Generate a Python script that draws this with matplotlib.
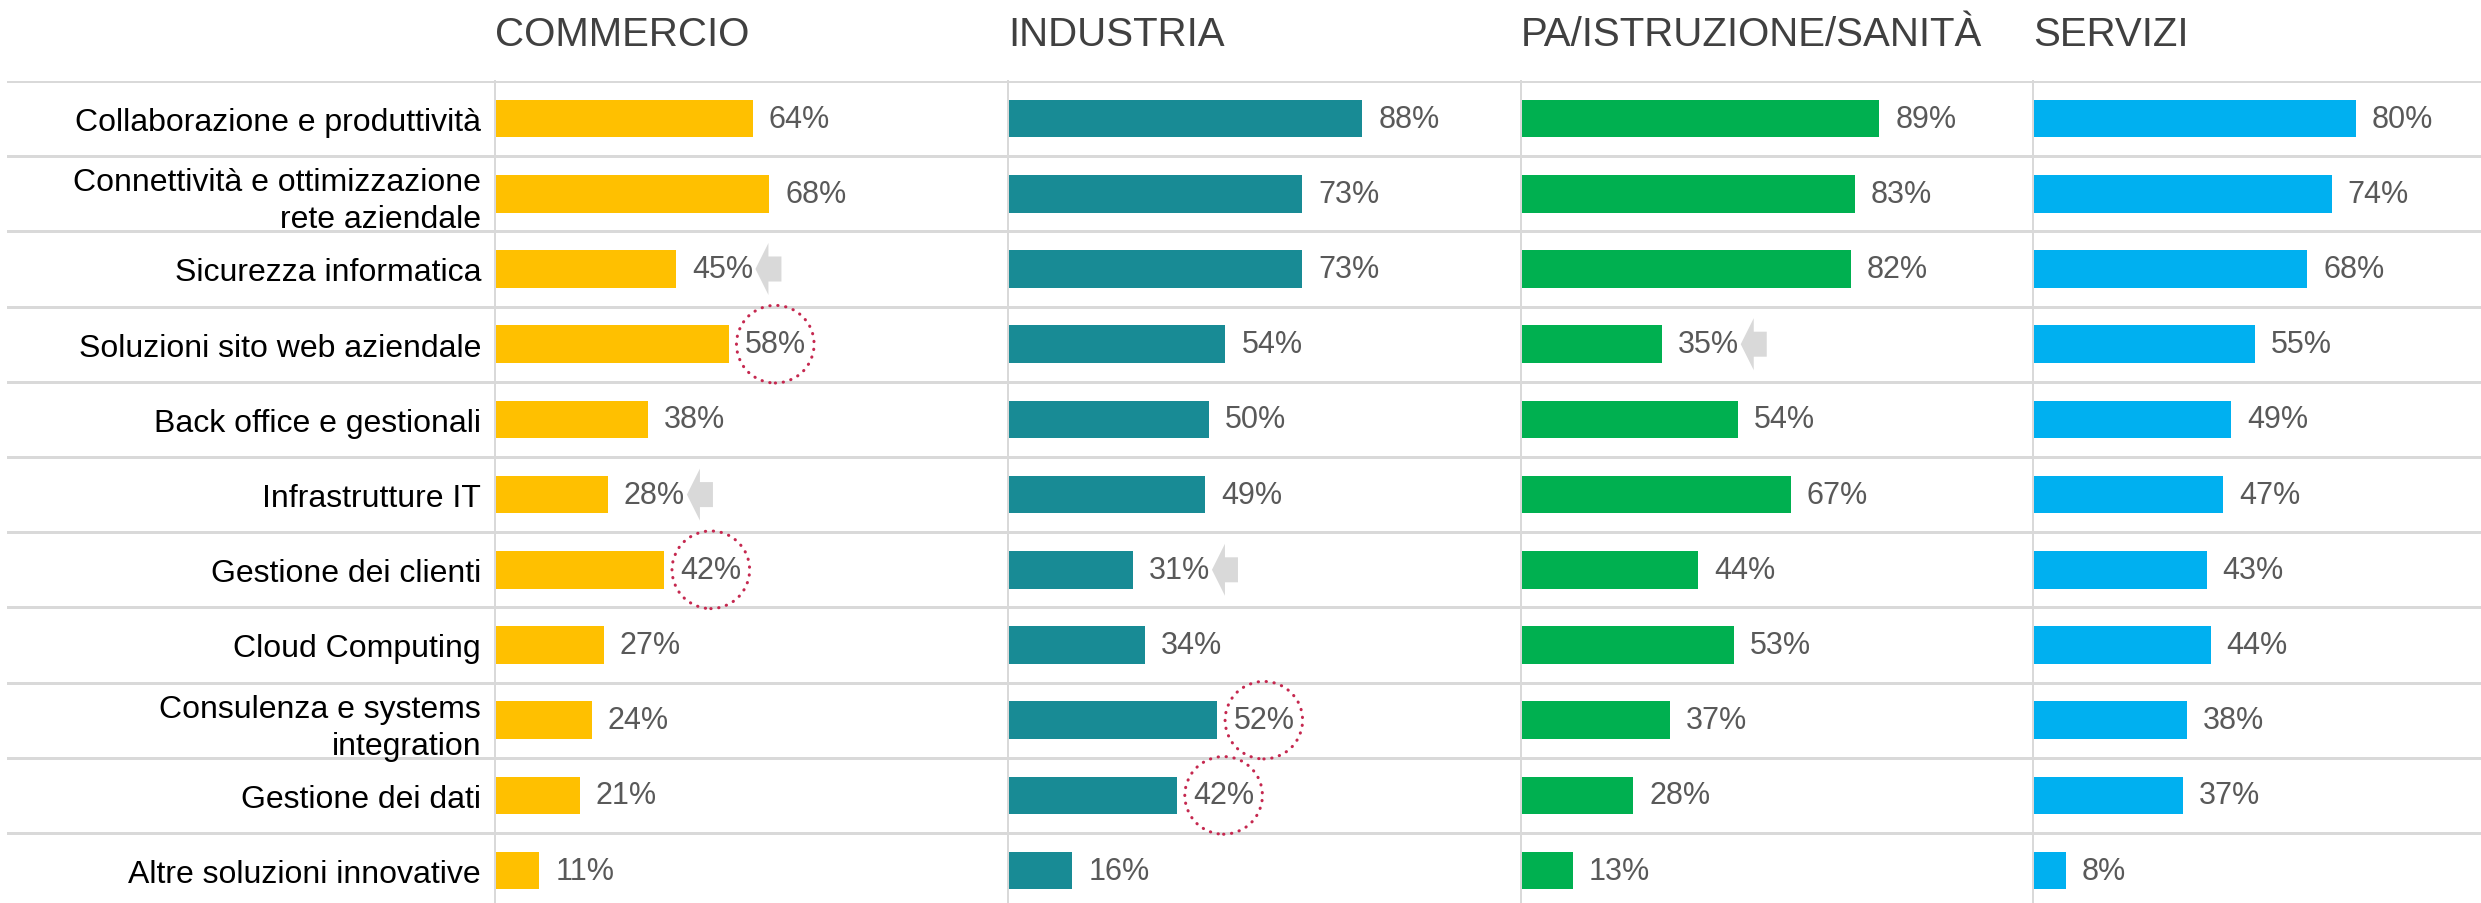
import matplotlib
matplotlib.use("Agg")
import matplotlib.pyplot as plt
from matplotlib.patches import Polygon
import numpy as np

# ---------------- data ----------------
categories = [
    "Collaborazione e produttività",
    "Connettività e ottimizzazione\nrete aziendale",
    "Sicurezza informatica",
    "Soluzioni sito web aziendale",
    "Back office e gestionali",
    "Infrastrutture IT",
    "Gestione dei clienti",
    "Cloud Computing",
    "Consulenza e systems\nintegration",
    "Gestione dei dati",
    "Altre soluzioni innovative",
]
sectors = ["COMMERCIO", "INDUSTRIA", "PA/ISTRUZIONE/SANITÀ", "SERVIZI"]
commercio = [64, 68, 45, 58, 38, 28, 42, 27, 24, 21, 11]
industria = [88, 73, 73, 54, 50, 49, 31, 34, 52, 42, 16]
pa_istruzione_sanita = [89, 83, 82, 35, 54, 67, 44, 53, 37, 28, 13]
servizi = [80, 74, 68, 55, 49, 47, 43, 44, 38, 37, 8]
series = [commercio, industria, pa_istruzione_sanita, servizi]
# highlighted items (category index) per sector
arrow_items = [[2, 5], [6], [3], []]
circle_items = [[3, 6], [8, 9], [], []]

# ---------------- style ----------------
colors = ["#FFC000", "#188B95", "#00B050", "#00B0F0"]
grid_col = "#D9D9D9"
value_col = "#595959"
title_col = "#404040"
circle_col = "#C5284F"
arrow_col = "#D9D9D9"
FONT = "Liberation Sans"

W, H = 2481, 904
DPI = 100
top_px = 82.0
row_px = 75.2
n = len(categories)
first_left_px = 495.0
col_pitch_px = 512.8
px_per_unit = 4.03

fig = plt.figure(figsize=(W / DPI, H / DPI), dpi=DPI)
plt.rcParams["font.family"] = [FONT, "DejaVu Sans"]

ax_h = n * row_px / H
ax_bottom = 1 - top_px / H - ax_h
ylim = (n - 0.5, -0.5)

# background axes for horizontal separators spanning full width
bg = fig.add_axes([7 / W, ax_bottom, 1 - 7 / W, ax_h])
bg.set_ylim(*ylim)
bg.set_xlim(0, 1)
bg.axis("off")
for b in np.arange(-0.5, n, 1.0):
    bg.axhline(b, color=grid_col, lw=3 * 72 / DPI, zorder=0)

axes = []
for k, (name, vals, col) in enumerate(zip(sectors, series, colors)):
    left_px = first_left_px + k * col_pitch_px
    width_px = min(col_pitch_px, W - left_px)
    ax = fig.add_axes([left_px / W, ax_bottom, width_px / W, ax_h])
    ax.set_facecolor("none")
    ax.set_xlim(0, width_px / px_per_unit)
    ax.set_ylim(*ylim)
    y = np.arange(n)
    ax.barh(y, vals, height=0.5, color=col, zorder=2)
    for s in ["top", "right", "bottom"]:
        ax.spines[s].set_visible(False)
    ax.spines["left"].set_color(grid_col)
    ax.spines["left"].set_linewidth(2 * 72 / DPI)
    ax.set_xticks([])
    if k == 0:
        ax.set_yticks(y, categories)
        ax.tick_params(axis="y", length=0, pad=10, labelsize=23, labelcolor="black")
        for t in ax.get_yticklabels():
            t.set_linespacing(1.3)
    else:
        ax.set_yticks([])
    texts = []
    for i, v in enumerate(vals):
        kw = {}
        if i in circle_items[k]:
            kw["bbox"] = dict(boxstyle="circle,pad=0.27", fc="none", ec=circle_col,
                              lw=2.2, ls=(0, (0.1, 2.5)), capstyle="round")
        t = ax.annotate(f"{v}%", (v, i), xytext=(11.5, 0), textcoords="offset points",
                        va="center", ha="left", fontsize=22, color=value_col, zorder=3, **kw)
        texts.append(t)
    fig.text(left_px / W, 1 - 35 / H, name, fontsize=29, color=title_col,
             ha="left", va="center")
    axes.append((ax, texts))

# arrows placed after the label text
fig.canvas.draw()
renderer = fig.canvas.get_renderer()
for k, (ax, texts) in enumerate(axes):
    for i in arrow_items[k]:
        bb = texts[i].get_window_extent(renderer)
        yc = ax.transData.transform((0, i))[1]
        tip = bb.x1 + 2
        hb = tip + 13
        end = tip + 26
        verts = [(tip, yc), (hb, yc + 26), (hb, yc + 12.5), (end, yc + 12.5),
                 (end, yc - 12.5), (hb, yc - 12.5), (hb, yc - 26)]
        fig.patches.append(Polygon(verts, closed=True, transform=None,
                                   facecolor=arrow_col, edgecolor="none", zorder=5,
                                   figure=fig))

fig.savefig("out.png", dpi=DPI)
